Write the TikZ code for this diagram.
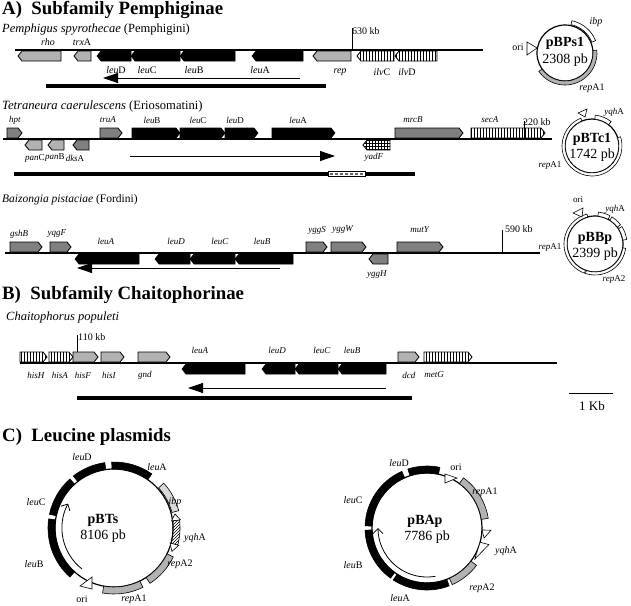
\documentclass[tikz,border=0pt]{standalone}
\usepackage{fontspec}
\setmainfont{Liberation Serif}
\usepackage{tikz}
\usetikzlibrary{patterns}
\usetikzlibrary{arrows.meta}

% genes: x1, x2, ytop, ybot, style
\newcommand{\genR}[5]{\draw[#5] (#1,#3) -- ({#2-4},#3) -- (#2,{(#3+#4)/2}) -- ({#2-4},#4) -- (#1,#4) -- cycle;}
\newcommand{\genL}[5]{\draw[#5] (#2,#3) -- ({#1+4},#3) -- (#1,{(#3+#4)/2}) -- ({#1+4},#4) -- (#2,#4) -- cycle;}
% plasmid segment: angle1, angle2, r1, r2, style
\newcommand{\seg}[5]{\draw[#5] (#1:#4) arc[start angle=#1, end angle=#2, radius=#4] -- (#2:#3) arc[start angle=#2, end angle=#1, radius=#3] -- cycle;}

\begin{document}
\begin{tikzpicture}[x=1pt, y=-1pt,
    gl/.style={font=\fontsize{9}{10}\selectfont, inner sep=0pt},
    gll/.style={font=\fontsize{10}{11}\selectfont, inner sep=0pt},
    kbl/.style={font=\fontsize{10}{11}\selectfont, inner sep=0pt, anchor=west},
    sp/.style={inner sep=0pt, anchor=west},
    ttl/.style={font=\fontsize{18.8}{20}\selectfont\bfseries, inner sep=0pt, anchor=west},
    pname/.style={font=\fontsize{14}{15}\selectfont\bfseries, inner sep=0pt},
    psize/.style={font=\fontsize{14}{15}\selectfont, inner sep=0pt},
    chrom/.style={line width=1.6pt},
    thickbar/.style={line width=4pt},
    thinarrow/.style={line width=0.8pt},
    genblack/.style={draw, line width=0.6pt, fill=black},
    genlight/.style={draw, line width=0.8pt, fill=black!30},
    gendark/.style={draw, line width=0.8pt, fill=black!50},
    genhatch/.style={draw, line width=0.8pt, pattern=vertical lines},
    gengrid/.style={draw, line width=0.8pt, pattern=grid},
    ring/.style={line width=1.2pt},
    pwhite/.style={draw, line width=0.6pt, fill=white},
    pgray/.style={draw, line width=0.6pt, fill=black!30}]
\useasboundingbox (0,0) rectangle (631,605);

% ---------------- A) Pemphiginae
\node[ttl] (tA) at (2,10) {A)\ \ Subfamily Pemphiginae};

% Pemphigus spyrothecae
\node[sp, font=\fontsize{12.5}{14}\selectfont] (s1) at (2,30) {\textit{Pemphigus spyrothecae} (Pemphigini)};
\draw[chrom] (15,50) -- (483,50);
\genL{18}{61}{51}{61}{genlight}
\genL{74}{91}{51}{61}{genlight}
\genL{97}{131}{51}{61}{genblack}
\genL{131}{180}{51}{61}{genblack}
\genL{180}{235}{51}{61}{genblack}
\genL{252}{303}{51}{61}{genblack}
\genL{313}{351}{51}{61}{genlight}
\genL{357}{394}{51}{61}{genhatch}
\genL{395}{437}{51}{61}{genhatch}
\draw[line width=0.8pt] (352,28) -- (352,50);
\node[kbl] (k1) at (352,31) {630 kb};
\node[gll] (g1a) at (48,42) {\textit{rho}};
\node[gll] (g1b) at (82,42) {\textit{trx}A};
\node[gll] (g1c) at (116,70) {\textit{leu}D};
\node[gll] (g1d) at (147,70) {\textit{leu}C};
\node[gll] (g1e) at (194,70) {\textit{leu}B};
\node[gll] (g1f) at (260,70) {\textit{leu}A};
\node[gll] (g1g) at (340,72) {\textit{rep}};
\node[gll] (g1h) at (382,72) {\textit{ilv}C};
\node[gll] (g1i) at (407,72) {\textit{ilv}D};
\draw[thinarrow, -{Triangle[length=15pt, width=10pt]}] (300,78) -- (103,78);
\draw[thickbar] (46,86) -- (326,86);

% pBPs1
\begin{scope}[shift={(565,53)}, yscale=-1]
  \draw[ring] (0,0) circle[radius=28];
  \seg{22}{78}{29}{33}{pwhite}
  \seg{-145}{5}{28}{32}{pgray}
\end{scope}
\draw[pwhite] (527,42) -- (527,55) -- (537,48) -- cycle;
\node[pname] (p1n) at (565,43) {pBPs1};
\node[psize] (p1s) at (565,60) {2308 pb};
\node[gll] (p1a) at (596,22) {\textit{ibp}};
\node[gll] (p1b) at (518,47) {ori};
\node[gll] (p1c) at (592,88) {\textit{rep}A1};

% Tetraneura caerulescens
\node[sp, font=\fontsize{12.6}{14}\selectfont] (s2) at (2,106) {\textit{Tetraneura caerulescens} (Eriosomatini)};
\draw[chrom] (3,139) -- (552,139);
\genR{7}{22}{128}{138}{gendark}
\genL{25}{42}{140}{150}{genlight}
\genL{48}{64}{140}{150}{genlight}
\genL{73}{89}{140}{150}{gendark}
\genR{100}{122}{128}{138}{gendark}
\genR{132}{180}{128}{138}{genblack}
\genR{180}{225}{128}{138}{genblack}
\genR{225}{258}{128}{138}{genblack}
\genR{272}{335}{128}{138}{genblack}
\genL{363}{390}{140}{150}{gengrid}
\genR{395}{463}{128}{138}{gendark}
\genR{471}{545}{128}{138}{genhatch}
\draw[line width=0.8pt] (524,121) -- (524,139);
\node[kbl] (k2) at (523,122) {220 kb};
\node[gl] (g2a) at (15,120) {\textit{hpt}};
\node[gl] (g2b) at (108,120) {\textit{truA}};
\node[gl] (g2c) at (152,120) {\textit{leu}B};
\node[gl] (g2d) at (198,120) {\textit{leu}C};
\node[gl] (g2e) at (235,120) {\textit{leu}D};
\node[gl] (g2f) at (298,120) {\textit{leu}A};
\node[gl] (g2g) at (413,120) {\textit{mrcB}};
\node[gl] (g2h) at (490,120) {\textit{secA}};
\node[gl] (g2i) at (35,158) {\textit{pan}C};
\node[gl] (g2j) at (55,158) {\textit{pan}B};
\node[gl] (g2k) at (75,158) {\textit{dks}A};
\node[gl] (g2l) at (374,157) {\textit{yadF}};
\draw[thinarrow, -{Triangle[length=15pt, width=10pt]}] (130,156) -- (335,156);
\draw[thickbar] (14,174) -- (415,174);
\draw[fill=white, line width=0.6pt] (328,171.5) rectangle (365,176.5);
\draw[black!60, line width=2pt, dash pattern=on 3pt off 2pt] (330,174) -- (364,174);

% pBTc1
\begin{scope}[shift={(592,146)}, yscale=-1]
  \draw[ring] (0,0) circle[radius=27];
  \seg{112}{378}{27}{30}{pwhite}
  \seg{52}{84}{27}{31}{pwhite}
\end{scope}
\draw[pwhite] (578,113) -- (587,109) -- (585,117) -- cycle;
\node[pname] (p2n) at (592,139) {pBTc1};
\node[psize] (p2s) at (592,155) {1742 pb};
\node[gl] (p2a) at (614,112) {\textit{yqh}A};
\node[gl] (p2b) at (550,165) {\textit{rep}A1};

% Baizongia pistaciae
\node[sp, font=\fontsize{11.5}{13}\selectfont] (s3) at (2,200) {\textit{Baizongia pistaciae} (Fordini)};
\draw[chrom] (5,253) -- (540,253);
\genR{10}{42}{242}{252}{gendark}
\genR{50}{71}{242}{252}{gendark}
\genL{75}{139}{254}{264}{genblack}
\genL{155}{190}{254}{264}{genblack}
\genL{190}{235}{254}{264}{genblack}
\genL{235}{293}{254}{264}{genblack}
\genR{306}{327}{242}{252}{gendark}
\genR{331}{366}{242}{252}{gendark}
\genL{369}{388}{254}{264}{gendark}
\genR{397}{443}{242}{252}{gendark}
\draw[line width=0.8pt] (502,230) -- (502,253);
\node[kbl] (k3) at (505,229) {590 kb};
\node[gl] (g3a) at (19,234) {\textit{gshB}};
\node[gl] (g3b) at (57,234) {\textit{yqgF}};
\node[gl] (g3c) at (106,241) {\textit{leuA}};
\node[gl] (g3d) at (176,241) {\textit{leuD}};
\node[gl] (g3e) at (220,241) {\textit{leuC}};
\node[gl] (g3f) at (262,241) {\textit{leuB}};
\node[gl] (g3g) at (317,230) {\textit{yggS}};
\node[gl] (g3h) at (343,230) {\textit{yggW}};
\node[gl] (g3i) at (420,230) {\textit{mutY}};
\node[gl] (g3j) at (377,275) {\textit{yggH}};
\draw[thinarrow, -{Triangle[length=15pt, width=10pt]}] (280,268) -- (77,268);

% pBBp
\begin{scope}[shift={(595,244)}, yscale=-1]
  \draw[ring] (0,0) circle[radius=28];
  \seg{105}{250}{28}{31}{pwhite}
  \seg{252}{352}{28}{31}{pwhite}
  \seg{62}{84}{28}{32}{pwhite}
  \seg{37}{58}{28}{32}{pwhite}
  \seg{8}{33}{28}{32}{pwhite}
\end{scope}
\draw[pwhite] (573,213) -- (583,208) -- (582,217) -- cycle;
\node[pname] (p3n) at (595,238) {pBBp};
\node[psize] (p3s) at (595,254) {2399 pb};
\node[gl] (p3a) at (578,200) {ori};
\node[gl] (p3b) at (615,209) {\textit{yqh}A};
\node[gl] (p3c) at (550,247) {\textit{rep}A1};
\node[gl] (p3d) at (614,279) {\textit{rep}A2};

% ---------------- B) Chaitophorinae
\node[ttl] (tB) at (2,295) {B)\ \ Subfamily Chaitophorinae};
\node[sp, font=\fontsize{12.5}{14}\selectfont] (s4) at (6,317) {\textit{Chaitophorus populeti}};
\draw[chrom] (20,363) -- (557,363);
\genR{20}{47}{352}{362}{genhatch}
\genR{49}{73}{352}{362}{genhatch}
\genR{73}{98}{352}{362}{genlight}
\genR{101}{124}{352}{362}{genlight}
\genR{138}{170}{352}{362}{genlight}
\genL{182}{245}{364}{374}{genblack}
\genL{262}{295}{364}{374}{genblack}
\genL{295}{338}{364}{374}{genblack}
\genL{338}{386}{364}{374}{genblack}
\genR{398}{419}{352}{362}{genlight}
\genR{424}{472}{352}{362}{genhatch}
\draw[line width=0.8pt] (77,335) -- (77,352);
\node[kbl] (k4) at (78,337) {110 kb};
\node[gl] (g4a) at (36,375) {\textit{hisH}};
\node[gl] (g4b) at (60,375) {\textit{hisA}};
\node[gl] (g4c) at (83,375) {\textit{hisF}};
\node[gl] (g4d) at (109,375) {\textit{hisI}};
\node[gl] (g4e) at (145,375) {\textit{gnd}};
\node[gl] (g4f) at (200,350) {\textit{leuA}};
\node[gl] (g4g) at (277,350) {\textit{leuD}};
\node[gl] (g4h) at (322,350) {\textit{leuC}};
\node[gl] (g4i) at (352,350) {\textit{leuB}};
\node[gl] (g4j) at (409,375) {\textit{dcd}};
\node[gl] (g4k) at (434,375) {\textit{metG}};
\draw[thinarrow, -{Triangle[length=15pt, width=10pt]}] (386,388) -- (188,388);
\draw[thickbar] (77,398) -- (412,398);
\draw[line width=1pt] (569,393) -- (613,393);
\node[font=\fontsize{13}{14}\selectfont, inner sep=0pt] (kb) at (592,406) {1 Kb};

% ---------------- C) Leucine plasmids
\node[ttl] (tC) at (2,437) {C)\ \ Leucine plasmids};

% pBTs
\begin{scope}[shift={(114,528)}, yscale=-1]
  \draw[ring] (0,0) circle[radius=59];
  \seg{55}{92}{59}{66}{genblack}
  \seg{98}{128}{59}{66}{genblack}
  \seg{132}{168}{59}{66}{genblack}
  \seg{172}{228}{59}{66}{genblack}
  \seg{15}{42}{60}{67}{draw, line width=0.6pt, fill=black!15}
  \seg{-15}{7}{59}{66}{draw, line width=0.6pt, pattern=north east lines}
  \draw[pwhite] (7:58) -- (7:67) -- (13:62.5) -- cycle;
  \draw[pwhite] (-15:58) -- (-15:67) -- (-22:62.5) -- cycle;
  \seg{-57}{-26}{59}{66}{pgray}
  \seg{-100}{-64}{59}{66}{pgray}
  \draw[thinarrow, -{Straight Barb[length=5pt, width=10pt]}] (232:52) arc[start angle=232, end angle=152, radius=52];
\end{scope}
\draw[pwhite] (80,586) -- (92,577) -- (92,589) -- cycle;
\node[pname] (p4n) at (103,520) {pBTs};
\node[psize] (p4s) at (103,536) {8106 pb};
\node[gll] (p4a) at (82,457) {\textit{leu}D};
\node[gll] (p4b) at (157,467) {\textit{leu}A};
\node[gll] (p4c) at (36,502) {\textit{leu}C};
\node[gll] (p4d) at (175,502) {\textit{ibp}};
\node[gll] (p4e) at (195,538) {\textit{yqh}A};
\node[gll] (p4f) at (34,564) {\textit{leu}B};
\node[gll] (p4g) at (180,564) {\textit{rep}A2};
\node[gll] (p4h) at (82,599) {ori};
\node[gll] (p4i) at (134,599) {\textit{rep}A1};

% pBAp
\begin{scope}[shift={(427,528)}, yscale=-1]
  \draw[ring] (0,0) circle[radius=55];
  \seg{78}{108}{55}{62}{genblack}
  \seg{114}{178}{55}{62}{genblack}
  \seg{182}{234}{55}{62}{genblack}
  \seg{237}{291}{55}{62}{genblack}
  \seg{9}{54}{55}{62}{pgray}
  \seg{-66}{-37}{55}{62}{pgray}
  \draw[pwhite] (-2:55) -- (-2:64) -- (-10:58) -- cycle;
  \draw[pwhite] (-15:55) -- (-15:64) -- (-33:57) -- cycle;
  \draw[thinarrow, -{Straight Barb[length=5pt, width=10pt]}] (280:49) arc[start angle=280, end angle=180, radius=49];
\end{scope}
\draw[pwhite] (445,474) -- (445,483) -- (457,478) -- cycle;
\node[pname] (p5n) at (425,521) {pBAp};
\node[psize] (p5s) at (427,537) {7786 pb};
\node[gll] (p5a) at (399,463) {\textit{leu}D};
\node[gll] (p5b) at (456,467) {ori};
\node[gll] (p5c) at (353,500) {\textit{leu}C};
\node[gll] (p5d) at (485,492) {\textit{rep}A1};
\node[gll] (p5e) at (353,565) {\textit{leu}B};
\node[gll] (p5f) at (506,551) {\textit{yqh}A};
\node[gll] (p5g) at (482,588) {\textit{rep}A2};
\node[gll] (p5h) at (400,598) {\textit{leu}A};
\end{tikzpicture}
\end{document}
